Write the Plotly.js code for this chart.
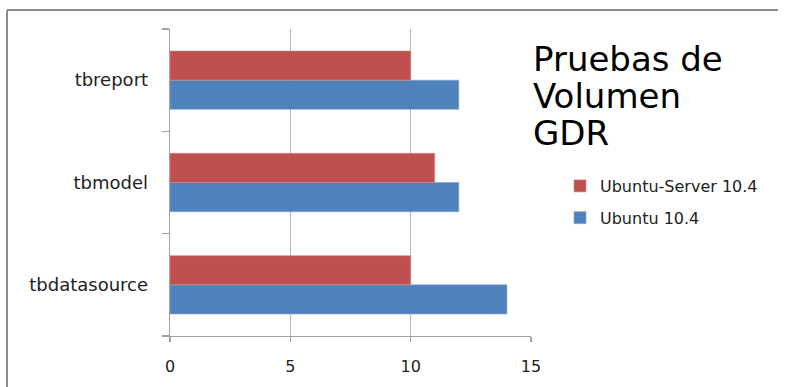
<!DOCTYPE html>
<html>
<head>
<meta charset="utf-8">
<script src="https://cdn.plot.ly/plotly-3.0.1.min.js"></script>
<style>html,body{margin:0;padding:0;background:#fff;}#chart{width:787px;height:387px;}</style>
</head>
<body>
<div id="chart"></div>
<script>
const categories = ['tbdatasource', 'tbmodel', 'tbreport'];
const ubuntuDesktop = [14, 12, 12];
const ubuntuServer = [10, 11, 10];
const seriesNames = ['Ubuntu 10.4', 'Ubuntu-Server 10.4'];
const titleLines = ['Pruebas de', 'Volumen', 'GDR'];
const xTicks = [0, 5, 10, 15];

const W = 787, H = 387;
const L = 170, R = 531, T = 29, B = 336;
const px = x => (x - L) / (R - L);
const py = y => (B - y) / (B - T);

const traces = [
  {type: 'bar', orientation: 'h', name: seriesNames[0], y: categories, x: ubuntuDesktop,
   marker: {color: '#4F81BD', line: {color: '#7fa3d3', width: 0.6}}, legendgroup: 'a', legendrank: 2, hoverinfo: 'x+y'},
  {type: 'bar', orientation: 'h', name: seriesNames[1], y: categories, x: ubuntuServer,
   marker: {color: '#C0504D', line: {color: '#d98a88', width: 0.6}}, legendgroup: 'b', legendrank: 1, hoverinfo: 'x+y'}
];

const titleCenters = [59, 96, 133];
const annotations = titleLines.map((t, i) => ({
  text: t, xref: 'paper', yref: 'paper', x: px(531), y: py(titleCenters[i]),
  xanchor: 'left', yanchor: 'middle', showarrow: false,
  font: {family: 'DejaVu Sans', size: 34, color: '#000'}
}));

const layout = {
  width: W, height: H,
  margin: {l: L, r: W - R, t: T, b: H - B, pad: 0},
  paper_bgcolor: '#fff', plot_bgcolor: '#fff',
  barmode: 'group', bargap: 0.43, bargroupgap: 0,
  showlegend: true,
  legend: {x: px(560), y: py(169), xanchor: 'left', yanchor: 'top',
           traceorder: 'grouped', tracegroupgap: 8,
           font: {family: 'DejaVu Sans', size: 16, color: '#222'},
           bgcolor: 'rgba(0,0,0,0)', borderwidth: 0},
  xaxis: {range: [0, 15], tickvals: xTicks, ticktext: xTicks.map(String),
          showgrid: true, gridcolor: '#b8b8b8', gridwidth: 1.3,
          showline: true, linecolor: '#a0a0a0', linewidth: 1.3,
          ticks: 'outside', ticklen: 5, tickcolor: '#a0a0a0', tickwidth: 1.3,
          zeroline: false, fixedrange: true, ticklabelstandoff: 10,
          tickfont: {family: 'DejaVu Sans', size: 16, color: '#222'}},
  yaxis: {type: 'category', categoryorder: 'array', categoryarray: categories,
          showgrid: false, showline: true, linecolor: '#a0a0a0', linewidth: 1.3,
          ticks: 'outside', ticklen: 7, tickcolor: '#a0a0a0', tickwidth: 1.3,
          tickson: 'boundaries', zeroline: false, fixedrange: true, ticklabelstandoff: 17,
          tickfont: {family: 'DejaVu Sans', size: 18, color: '#222'}},
  annotations: annotations,
  shapes: [
    {type: 'line', xref: 'paper', yref: 'paper', x0: px(7), x1: px(778), y0: py(10), y1: py(10),
     line: {color: '#8c8c8c', width: 2}},
    {type: 'line', xref: 'paper', yref: 'paper', x0: px(7), x1: px(7), y0: py(10), y1: py(392),
     line: {color: '#8c8c8c', width: 2}}
  ]
};

Plotly.newPlot('chart', traces, layout, {displayModeBar: false, staticPlot: true});
</script>
</body>
</html>
